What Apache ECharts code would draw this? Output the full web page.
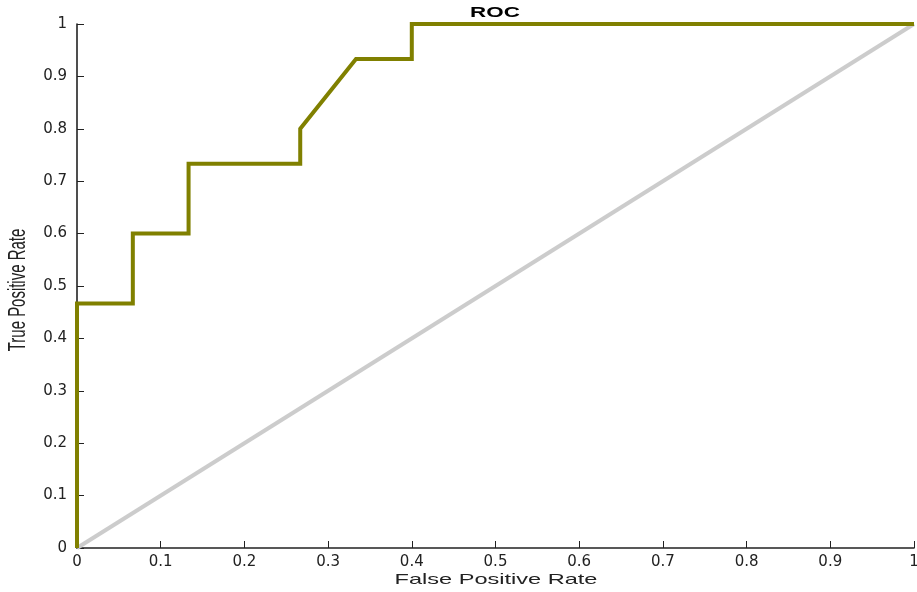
<!DOCTYPE html>
<html><head><meta charset="utf-8">
<script src="https://cdn.jsdelivr.net/npm/echarts@6/dist/echarts.min.js"></script>
<style>html,body{margin:0;padding:0;background:#fff}#c{width:917px;height:592px}</style>
</head><body><div id="c"></div>
<script>
const rocFPR = [0, 0, 0.0667, 0.0667, 0.1333, 0.1333, 0.2667, 0.2667, 0.3333, 0.4, 0.4, 1];
const rocTPR = [0, 0.4667, 0.4667, 0.6, 0.6, 0.7333, 0.7333, 0.8, 0.9333, 0.9333, 1, 1];
const diagX = [0, 1];
const diagY = [0, 1];
const titleText = 'ROC';
const xName = 'False Positive Rate';
const yName = 'True Positive Rate';

const font = 'DejaVu Sans, Verdana, sans-serif';
const sans = 'Liberation Sans, Arial, sans-serif';
const chart = echarts.init(document.getElementById('c'));
const fmt = v => (v === 0 ? '0' : v === 1 ? '1' : String(Math.round(v * 10) / 10));
const axisCommon = {
  min: 0, max: 1, interval: 0.1,
  axisLine: { show: true, lineStyle: { color: '#222', width: 1.6 } },
  axisTick: { show: true, inside: true, length: 7, lineStyle: { color: '#222', width: 1 } },
  splitLine: { show: false },
  axisLabel: { color: '#222', fontSize: 15, fontFamily: font, formatter: fmt }
};
chart.setOption({
  animation: false,
  grid: { left: 77, right: 3, top: 24, bottom: 44, outerBoundsMode: 'none', containLabel: false },
  xAxis: Object.assign({}, axisCommon, {
    type: 'value',
    axisLabel: Object.assign({}, axisCommon.axisLabel, { margin: 7 })
  }),
  yAxis: Object.assign({}, axisCommon, {
    type: 'value',
    axisLabel: Object.assign({}, axisCommon.axisLabel, { margin: 10 })
  }),
  graphic: [
    { type: 'text', x: 495, y: 13, scaleX: 1.6, scaleY: 1, z: 10,
      style: { text: titleText, font: 'bold 14px ' + sans, fill: '#000', align: 'center', verticalAlign: 'middle' } },
    { type: 'text', x: 496, y: 580, scaleX: 1.57, scaleY: 1, z: 10,
      style: { text: xName, font: '15px ' + sans, fill: '#222', align: 'center', verticalAlign: 'middle' } },
    { type: 'text', x: 19, y: 290, rotation: Math.PI / 2, scaleX: 0.65, scaleY: 1, z: 10,
      style: { text: yName, font: '23px ' + sans, fill: '#222', align: 'center', verticalAlign: 'middle' } }
  ],
  series: [
    { type: 'line', data: diagX.map((x, i) => [x, diagY[i]]), symbol: 'none',
      lineStyle: { color: '#cccccc', width: 4 }, z: 1 },
    { type: 'line', data: rocFPR.map((x, i) => [x, rocTPR[i]]), symbol: 'none',
      lineStyle: { color: '#808000', width: 4, join: 'miter' }, z: 2 }
  ]
});
</script></body></html>
